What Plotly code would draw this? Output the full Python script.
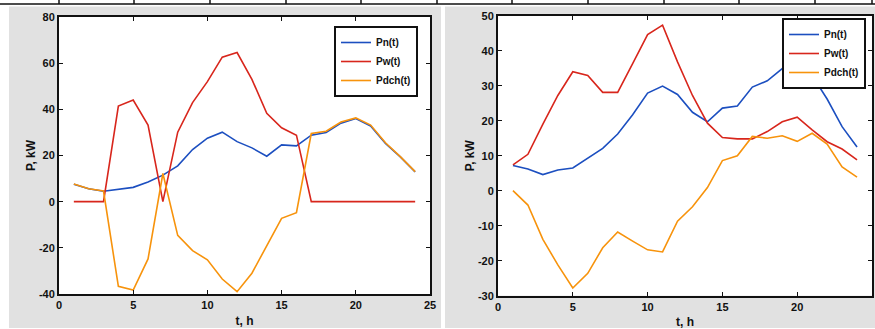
import plotly.graph_objects as go

t = list(range(1, 25))

# Left chart
pn_left = [7.5, 5.6, 4.5, 5.5, 6.2, 8.5, 11.5, 15.5, 22.6, 27.5, 30.1, 26.0,
           23.3, 19.7, 24.6, 24.2, 28.8, 30.0, 34.0, 36.0, 32.8, 25.2, 19.4, 12.9]
pw_left = [0, 0, 0, 41.4, 44.0, 33.2, 0, 30.1, 42.9, 52.0, 62.6, 64.6,
           53.0, 38.3, 32.0, 28.8, 0, 0, 0, 0, 0, 0, 0, 0]
pdch_left = [7.7, 5.6, 4.6, -36.7, -38.3, -24.8, 12.2, -14.6, -21.2, -25.2, -33.5, -39.0,
             -31.0, -19.0, -7.2, -4.8, 29.5, 30.5, 34.5, 36.3, 33.2, 25.5, 19.5, 13.0]

# Right chart
pn_right = [7.2, 6.2, 4.6, 5.9, 6.5, 9.4, 12.1, 16.2, 21.7, 27.9, 29.9, 27.5,
            22.4, 19.7, 23.6, 24.2, 29.6, 31.4, 34.9, 34.4, 32.9, 26.2, 18.3, 12.5]
pw_right = [7.4, 10.4, 19.0, 27.2, 34.0, 32.9, 28.1, 28.1, 36.3, 44.6, 47.3, 36.8,
            27.2, 19.3, 15.2, 14.8, 14.8, 16.9, 19.7, 21.0, 17.4, 14.0, 11.9, 8.8]
pdch_right = [0.0, -4.1, -13.9, -21.2, -27.8, -23.6, -16.3, -11.8, -14.4, -16.9, -17.5, -8.7,
              -4.6, 0.9, 8.6, 10.0, 15.5, 15.0, 15.7, 14.1, 16.4, 13.3, 6.8, 3.9]

series_names = ["Pn(t)", "Pw(t)", "Pdch(t)"]
colors = ["#1c4fc0", "#d8261c", "#f7930c"]

x_ticks = [0, 5, 10, 15, 20, 25]
x_tick_labels = ["0", "5", "10", "15", "20", "25"]
y_ticks_left = [-40, -20, 0, 20, 40, 60, 80]
y_tick_labels_left = ["-40", "-20", "0", "20", "40", "60", "80"]
y_ticks_right = [-30, -20, -10, 0, 10, 20, 30, 40, 50]
y_tick_labels_right = ["-30", "-20", "-10", "0", "10", "20", "30", "40", "50"]

W, H = 875, 329
FONT = "Liberation Sans, Arial, sans-serif"

fig = go.Figure()

for vals, name, col in zip([pn_left, pw_left, pdch_left], series_names, colors):
    fig.add_trace(go.Scatter(x=t, y=vals, mode="lines", name=name,
                             line=dict(color=col, width=1.6),
                             xaxis="x", yaxis="y", legend="legend"))
for vals, name, col in zip([pn_right, pw_right, pdch_right], series_names, colors):
    fig.add_trace(go.Scatter(x=t, y=vals, mode="lines", name=name,
                             line=dict(color=col, width=1.6),
                             xaxis="x2", yaxis="y2", legend="legend2"))

def px_x(p):
    return p / W

def px_y(p):
    return 1 - p / H

def bold(labels):
    return ["<b>%s</b>" % s for s in labels]

tickfont = dict(family=FONT, size=11, color="#111")
titlefont = dict(family=FONT, size=12, color="#111", weight="bold")

axis_common = dict(showgrid=False, zeroline=False, showline=True, linecolor="#111",
                   linewidth=2, ticks="inside", ticklen=4, tickcolor="#111",
                   mirror="ticks", tickfont=tickfont, automargin=False)

legend_font = dict(family=FONT, size=10, color="#111", weight="bold")

fig.update_layout(
    width=W, height=H,
    margin=dict(l=0, r=0, t=0, b=0),
    paper_bgcolor="#e1e1e1",
    plot_bgcolor="white",
    showlegend=True,
    xaxis=dict(domain=[px_x(59), px_x(430)], range=[0, 25], tickvals=x_ticks,
               ticktext=bold(x_tick_labels),
               anchor="y", title=dict(text="<b>t, h</b>", font=titlefont, standoff=6),
               **axis_common),
    yaxis=dict(domain=[px_y(294), px_y(17)], range=[-40, 80], tickvals=y_ticks_left,
               ticktext=bold(y_tick_labels_left),
               anchor="x", title=dict(text="<b>P, kW</b>", font=titlefont, standoff=1),
               **axis_common),
    xaxis2=dict(domain=[px_x(498), px_x(872)], range=[0, 25], tickvals=x_ticks,
                ticktext=bold(x_tick_labels),
                anchor="y2", title=dict(text="<b>t, h</b>", font=titlefont, standoff=6),
                **axis_common),
    yaxis2=dict(domain=[px_y(295.7), px_y(15.7)], range=[-30, 50], tickvals=y_ticks_right,
                ticktext=bold(y_tick_labels_right),
                anchor="x2", title=dict(text="<b>P, kW</b>", font=titlefont, standoff=1),
                **axis_common),
    legend=dict(x=px_x(418), y=px_y(26), xanchor="right", yanchor="top",
                bgcolor="white", bordercolor="#111", borderwidth=2,
                font=legend_font, tracegroupgap=0, itemwidth=30),
    legend2=dict(x=px_x(866), y=px_y(18), xanchor="right", yanchor="top",
                 bgcolor="white", bordercolor="#111", borderwidth=2,
                 font=legend_font, tracegroupgap=0, itemwidth=30),
)

# White strips around the gray panels and top border decoration
shapes = [
    dict(type="rect", xref="paper", yref="paper", x0=0, x1=1, y0=px_y(6.5), y1=1,
         fillcolor="white", line=dict(width=0), layer="below"),
    dict(type="rect", xref="paper", yref="paper", x0=0, x1=px_x(9), y0=0, y1=1,
         fillcolor="white", line=dict(width=0), layer="below"),
    dict(type="rect", xref="paper", yref="paper", x0=px_x(441), x1=px_x(445), y0=0, y1=1,
         fillcolor="white", line=dict(width=0), layer="below"),
    dict(type="rect", xref="paper", yref="paper", x0=0, x1=1, y0=0, y1=px_y(328),
         fillcolor="white", line=dict(width=0), layer="below"),
    dict(type="line", xref="paper", yref="paper", x0=0, x1=1, y0=px_y(4), y1=px_y(4),
         line=dict(color="#111", width=1.5)),
]
for xv in [59, 134, 210, 286, 361, 437, 512, 588, 664, 739, 815, 872]:
    shapes.append(dict(type="line", xref="paper", yref="paper", x0=px_x(xv), x1=px_x(xv),
                       y0=px_y(4), y1=1, line=dict(color="#111", width=1.5)))
fig.update_layout(shapes=shapes)

fig.write_html("out.html",
               config={"displayModeBar": False},
               post_script="document.body.style.margin='0';document.body.style.overflow='hidden';")
